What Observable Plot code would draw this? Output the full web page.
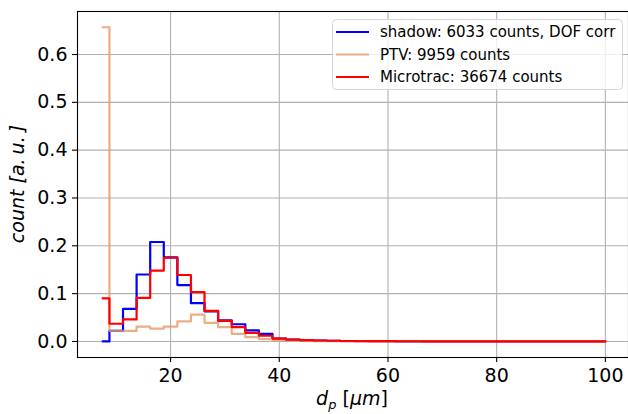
<!DOCTYPE html>
<html>
<head>
<meta charset="utf-8">
<script src="https://cdn.jsdelivr.net/npm/d3@7"></script>
<script src="https://cdn.jsdelivr.net/npm/@observablehq/plot@0.6"></script>
<style>
  html, body { margin: 0; padding: 0; background: #fff; }
  #chart { position: relative; width: 628px; height: 414px; }
</style>
</head>
<body>
<div id="chart"></div>
<script>
// bin centres (µm)
const dp = [7.5, 10, 12.5, 15, 17.5, 20, 22.5, 25, 27.5, 30, 32.5, 35, 37.5, 40, 42.5, 45, 47.5, 50, 52.5, 55,
            57.5, 60, 62.5, 65, 67.5, 70, 72.5, 75, 77.5, 80, 82.5, 85, 87.5, 90, 92.5, 95, 97.5, 100];
const shadow = [0, 0.022, 0.068, 0.140, 0.208, 0.176, 0.118, 0.080, 0.063, 0.044, 0.036, 0.023, 0.016, 0.006, 0.004, 0.003, 0.002, 0.0015, 0.001, 0.0008,
                0.0005, 0.0004, 0.0003, 0.0002, 0.0002, 0.0001, 0.0001, 0, 0, 0, 0, 0, 0, 0, 0, 0, 0, 0];
const ptv = [0.657, 0.022, 0.022, 0.031, 0.027, 0.031, 0.042, 0.056, 0.039, 0.030, 0.016, 0.009, 0.005, 0.003, 0.002, 0.001, 0.0008, 0.0005, 0.0003, 0.0002,
             0.0001, 0, 0, 0, 0, 0, 0, 0, 0, 0, 0, 0, 0, 0, 0, 0, 0, 0];
const microtrac = [0.090, 0.037, 0.046, 0.091, 0.148, 0.175, 0.139, 0.103, 0.064, 0.043, 0.030, 0.018, 0.012, 0.006, 0.004, 0.003, 0.002, 0.0015, 0.001, 0.001,
                   0.0008, 0.0006, 0.0005, 0.0004, 0.0003, 0.0003, 0.0002, 0.0002, 0.0002, 0.0001, 0.0001, 0.0001, 0.0001, 0.0001, 0, 0, 0, 0];
const seriesNames = ["shadow: 6033 counts, DOF corr", "PTV: 9959 counts", "Microtrac: 36674 counts"];
const seriesColors = ["#0000ff", "#e69966", "#ff0000"];
const seriesOpacity = [1, 0.8, 1];
const xTicks = [20, 40, 60, 80, 100];
const yTicks = [0, 0.1, 0.2, 0.3, 0.4, 0.5, 0.6];

const seriesValues = [shadow, ptv, microtrac];
const tables = seriesValues.map(vals => dp.map((x, i) => ({x, y: vals[i]})));

const W = 628, H = 414;
const plot = Plot.plot({
  width: W,
  height: H,
  marginLeft: 77,
  marginRight: 0,
  marginTop: 11,
  marginBottom: 57,
  style: {fontFamily: "'DejaVu Sans', sans-serif", fontSize: "19px", color: "#000", background: "#fff", overflow: "visible"},
  x: {domain: [2.875, 104.625], range: [77, 630]},
  y: {domain: [-0.0329, 0.6899], range: [356.7, 11]},
  marks: [
    Plot.gridX(xTicks, {stroke: "#b0b0b0", strokeOpacity: 1, strokeWidth: 1.1}),
    Plot.gridY(yTicks, {stroke: "#b0b0b0", strokeOpacity: 1, strokeWidth: 1.1}),
    ...tables.map((t, k) => Plot.line(t, {
      x: "x", y: "y", curve: "step",
      stroke: seriesColors[k], strokeOpacity: seriesOpacity[k], strokeWidth: 2.2
    })),
    Plot.axisX({ticks: xTicks, tickSize: 5, tickPadding: 6, label: null, tickFormat: d => String(d), strokeWidth: 1.1}),
    Plot.axisY({ticks: yTicks, tickSize: 5, tickPadding: 5, label: null, tickFormat: d3.format(".1f"), strokeWidth: 1.1}),
    Plot.frame({stroke: "#000", strokeWidth: 1.1})
  ]
});
document.getElementById("chart").appendChild(plot);

const svg = d3.select(plot);
// axis labels
const yl = svg.append("text")
  .attr("transform", "translate(18,184) rotate(-90)")
  .attr("text-anchor", "middle")
  .attr("dominant-baseline", "middle")
  .style("font-family", "'DejaVu Sans', sans-serif")
  .style("font-size", "19px")
  .style("font-style", "italic");
yl.append("tspan").text("count [a.");
yl.append("tspan").attr("dx", 4).text("u.");
yl.append("tspan").attr("dx", 4).text("]");

const xl = svg.append("text")
  .attr("x", 352).attr("y", 405)
  .attr("text-anchor", "middle")
  .style("font-family", "'DejaVu Sans', sans-serif")
  .style("font-size", "19px");
xl.append("tspan").style("font-style", "italic").text("d");
xl.append("tspan").style("font-style", "italic").style("font-size", "13px").attr("dy", 4).text("p");
xl.append("tspan").attr("dy", -4).text(" [");
xl.append("tspan").style("font-style", "italic").text("μm");
xl.append("tspan").text("]");

// legend
const lg = svg.append("g");
lg.append("rect")
  .attr("x", 332.5).attr("y", 19.5).attr("width", 290).attr("height", 70)
  .attr("rx", 4).attr("ry", 4)
  .attr("fill", "rgba(255,255,255,0.8)").attr("stroke", "#d6d6d6").attr("stroke-width", 1);
const rowY = [32, 54.5, 77];
seriesNames.forEach((name, k) => {
  lg.append("line")
    .attr("x1", 336).attr("x2", 369).attr("y1", rowY[k]).attr("y2", rowY[k])
    .attr("stroke", seriesColors[k]).attr("stroke-opacity", seriesOpacity[k]).attr("stroke-width", 2.2);
  lg.append("text")
    .attr("x", 380).attr("y", rowY[k]).attr("dy", "0.36em")
    .attr("text-anchor", "start")
    .style("font-family", "'DejaVu Sans', sans-serif")
    .style("font-size", "15px")
    .text(name);
});
</script>
</body>
</html>
